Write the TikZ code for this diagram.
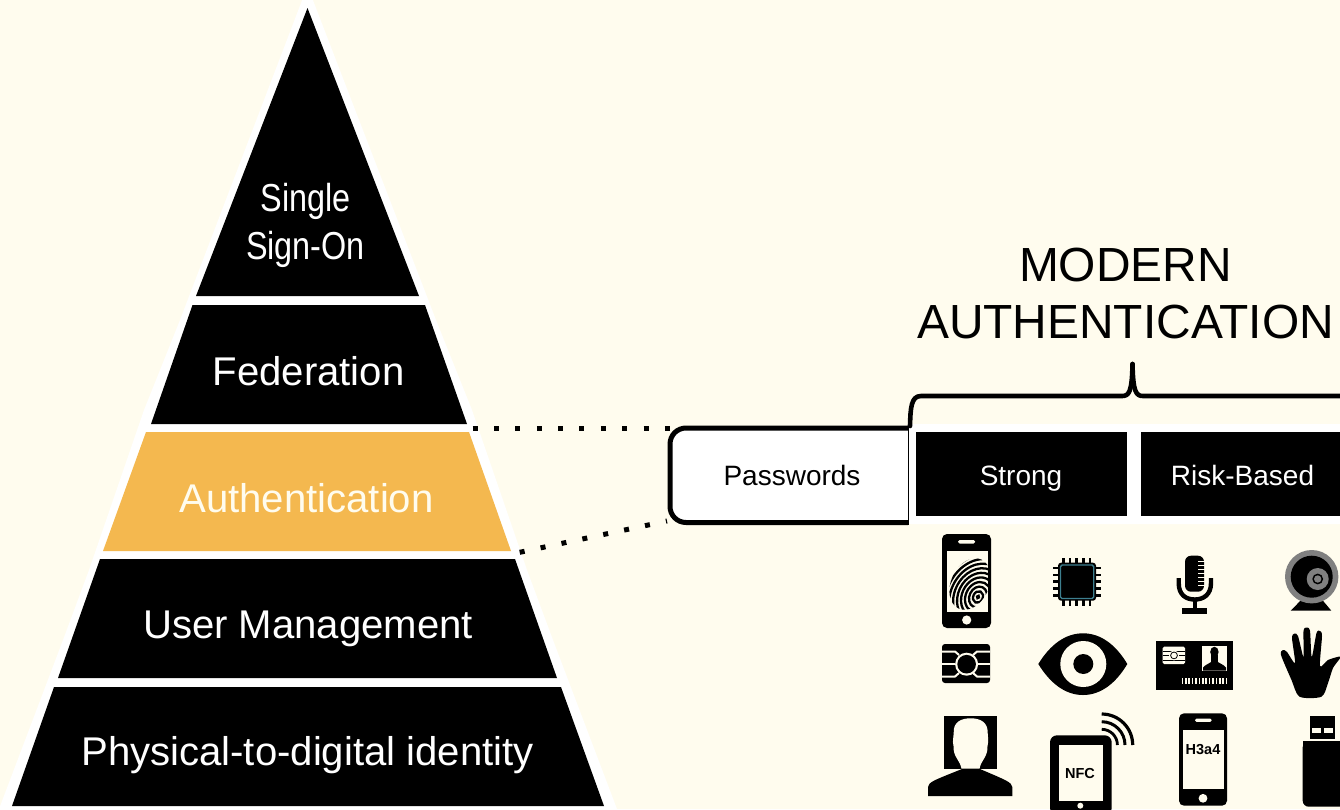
\documentclass[tikz,border=0pt]{standalone}
\usepackage{fontspec}
\setmainfont{Liberation Sans}
\definecolor{bgcream}{HTML}{FFFCEE}
\definecolor{authorange}{HTML}{F4B84F}
\definecolor{chipteal}{HTML}{3D7F8F}
\definecolor{camgrey}{HTML}{808080}
\newcommand{\fsz}[2]{\fontsize{#1}{#2}\selectfont}
\tikzset{
  layer/.style={fill=black,draw=none},
  lbl/.style={text=white,inner sep=0pt,align=center,anchor=base,font=\fsz{40.1}{48}},
  smalllbl/.style={inner sep=0pt,align=center,anchor=base,font=\fsz{28}{32}},
  dotline/.style={line width=5pt,dash pattern=on 5pt off 16.35pt},
  ink/.style={fill=black,draw=none},
  cut/.style={fill=bgcream,draw=none},
  cutline/.style={draw=bgcream,line width=2pt},
}
\begin{document}
\begin{tikzpicture}[x=1pt,y=-1pt]
\useasboundingbox (0,0) rectangle (1340,809);
\clip (0,0) rectangle (1340,809);
\fill[bgcream] (0,0) rectangle (1340,809);
% pyramid
\fill[white] (307.5,-14) -- (436,320) -- (472,410) -- (527,570) -- (553,640) -- (617,809) -- (-1,809) -- (63,640) -- (89,570) -- (144,410) -- (180,320) -- cycle;
\fill[layer] (307.5,8) -- (419,296) -- (196,296) -- cycle;
\fill[layer] (192.5,305) -- (425,305) -- (467,424) -- (151,424) -- cycle;
\fill[authorange] (146,432) -- (469,432) -- (511,551) -- (103,551) -- cycle;
\fill[layer] (100,559) -- (515,559) -- (557,678) -- (58,678) -- cycle;
\fill[layer] (54,687) -- (561,687) -- (604,806) -- (12,806) -- cycle;
\node[lbl,anchor=center] (sso) at (305.5,226) {\scalebox{.83}[1]{\fsz{39}{48}\selectfont\begin{tabular}{@{}c@{}}Single\\[0pt]Sign-On\end{tabular}}};
\node[lbl] (fed) at (308.5,385.5) {Federation};
\node[lbl,text=bgcream] (auth) at (306.5,512) {Authentication};
\node[lbl] (user) at (308,638) {User Management};
\node[lbl] (phys) at (307.5,765) {Physical-to-digital identity};
% connector anchors
\coordinate (authTop) at (472.7,428);
\coordinate (authBot) at (519.7,552.3);
\coordinate (pwTop) at (670,428);
\coordinate (pwBot) at (667,521);
\draw[dotline] (authTop) -- (pwTop);
\draw[dotline] (authBot) -- (pwBot);
% passwords + right panel
\fill[white,rounded corners=3pt] (908,424) rectangle (1345,524);
\fill[white,rounded corners=16pt] (670,428) rectangle (930,522.5);
\fill[white] (908,424) rectangle (930,524);
\draw[line width=5pt,rounded corners=16pt] (908,428) -- (670,428) -- (670,522.5) -- (908,522.5);
\draw[line width=1pt] (908,425.5) -- (908,525);
\node[smalllbl] (pw) at (792,485) {Passwords};
\fill[black] (916,432) rectangle (1126.5,516);
\fill[black] (1141,432) rectangle (1345,516);
\node[smalllbl,text=white] (strong) at (1021,485) {Strong};
\node[smalllbl,text=white] (risk) at (1242.5,485) {Risk-Based};
% brace
\draw[line width=4.6pt,line cap=round,line join=round] (910,426) .. controls (910.5,408) and (911,396) .. (921,396) -- (1122,396) .. controls (1129,396) and (1132,392) .. (1132.5,364);
\draw[line width=4.6pt,line cap=round,line join=round] (1132.5,364) .. controls (1133,392) and (1136,396) .. (1143,396) -- (1345,396);
\node[inner sep=0pt,align=center,font=\fsz{47.9}{57.5}] (modern) at (1125.5,293.5) {MODERN\\AUTHENTICATION};
% --- icons ---
% fingerprint phone
\fill[ink,rounded corners=5pt] (942,534) rectangle (991,628);
\fill[bgcream] (946.5,551) rectangle (988,612);
\fill[cut,rounded corners=1.5pt] (958,540) rectangle (975,543.5);
\fill[cut] (966.7,620) circle[radius=4.6pt];
\begin{scope}
  \clip (946.5,551) rectangle (988,612);
  \clip[rotate around={-25:(970,584)}] (970,584) ellipse[x radius=19pt,y radius=27pt];
  \foreach \r in {1,4.8,8.6,12.4,16.2,20,23.8,27.6,31.4,35.2,39,42.8,46.6}{
    \draw[line width=2.3pt,rotate around={-25:(978,597)}] (978,597) ellipse[x radius=\r pt,y radius=1.25*\r pt];
  }
\end{scope}
% chip card
\fill[ink,rounded corners=3pt] (942,644) rectangle (990,683);
\draw[cutline] (942,651.5) -- (955,651.5) -- (959,655);
\draw[cutline] (990,651.5) -- (977,651.5) -- (973,655);
\draw[cutline] (942,676.5) -- (955,676.5) -- (959,673);
\draw[cutline] (990,676.5) -- (977,676.5) -- (973,673);
\draw[cutline] (942,664) -- (955,664);
\draw[cutline] (978,664) -- (990,664);
\fill[cut] (966.6,664.2) circle[radius=11.5pt];
\fill[ink] (966.6,664.2) circle[radius=9.3pt];
% cpu
\foreach \k in {1063.3,1070,1076.7,1083.3,1090}{
  \fill[ink] (\k-1.3,558) rectangle (\k+1.3,563);
  \fill[ink] (\k-1.3,600) rectangle (\k+1.3,605.7);
}
\foreach \k in {568,574.8,581.6,588.4,595.2}{
  \fill[ink] (1053,\k-1.3) rectangle (1058,\k+1.3);
  \fill[ink] (1096,\k-1.3) rectangle (1100.7,\k+1.3);
}
\fill[ink,rounded corners=3pt] (1058,562.7) rectangle (1096,600.7);
\draw[chipteal,line width=1.4pt,rounded corners=1.5pt] (1060.5,565) rectangle (1093.7,598.5);
% microphone
\fill[ink,rounded corners=6pt] (1185,555.7) rectangle (1204,591.7);
\foreach \k in {561,565,569,573,577,581,585}{
  \draw[bgcream,line width=.8pt] (1198,\k) -- (1204.5,\k);
}
\draw[line width=4.4pt] (1178.7,578) -- (1178.7,583) .. controls (1178.7,595) and (1186,599.5) .. (1194.9,599.5) .. controls (1203,599.5) and (1211,595) .. (1211,583) -- (1211,578);
\fill[ink] (1192.7,599) rectangle (1196.9,609);
\fill[ink] (1181.7,608) rectangle (1206.7,614);
% webcam
\fill[ink] (1305,596) -- (1319,596) -- (1331.3,610.7) -- (1290.7,610.7) -- cycle;
\fill[camgrey] (1311.7,576.7) circle[radius=26.7pt];
\fill[ink] (1311.7,576.7) circle[radius=21pt];
\fill[camgrey] (1317.7,579) circle[radius=11pt];
\fill[ink] (1317.7,579) circle[radius=5.4pt];
\fill[camgrey] (1317.7,579) circle[radius=3.7pt];
% eye
\fill[ink] (1038.3,664) .. controls (1050,645) and (1065,633.3) .. (1083,633.3) .. controls (1101,633.3) and (1116,645) .. (1127.3,664) .. controls (1116,683) and (1101,695) .. (1083,695) .. controls (1065,695) and (1050,683) .. (1038.3,664) -- cycle;
\fill[cut] (1083.3,664) circle[radius=23pt];
\fill[ink] (1083.3,664) circle[radius=10pt];
% id card
\fill[ink] (1156,640.7) rectangle (1233.3,690);
\fill[cut,rounded corners=1.5pt] (1162.7,646.7) rectangle (1185,664);
\draw[line width=.7pt] (1162.7,651) -- (1185,651) (1162.7,655.5) -- (1169,655.5) (1179,655.5) -- (1185,655.5) (1162.7,660) -- (1185,660);
\fill[cut] (1174,655.4) circle[radius=5pt];
\draw[line width=.8pt] (1174,655.4) circle[radius=3.4pt];
\fill[cut] (1201.7,646) rectangle (1227,670.7);
\fill[ink] (1214.4,652) ellipse[x radius=4.2pt,y radius=5.3pt];
\fill[ink] (1211,655) rectangle (1217.8,662) ;
\fill[ink] (1203,670.7) -- (1203,667.5) .. controls (1206,664) and (1210,663.5) .. (1212,661) -- (1217,661) .. controls (1219,663.5) and (1223,664) .. (1226,667.5) -- (1226,670.7) -- cycle;
\foreach \k in {0,...,13}{
  \fill[cut] (1181.5+3.4*\k,678.3) rectangle (1183.2+3.4*\k,684.3);
}
% hand
\fill[ink] plot[smooth cycle,tension=.45] coordinates {
 (1299.5,696.7) (1291.5,680) (1281,655) (1283,650) (1287,652) (1295,663)
 (1292,638) (1294.5,633.5) (1298,636) (1303.5,657) (1303.5,631) (1306.7,627.5) (1310,631)
 (1311.7,657) (1316.5,633) (1320,631) (1322,636) (1320,666)
 (1328,660) (1339.5,656.5) (1339.5,659) (1333,668) (1328,683) (1321.5,696.7)};
% person
\fill[ink] (944,716) rectangle (996.7,768.7);
\fill[cut] (961.5,768.7) .. controls (960,760) and (953,757) .. (953.5,746) .. controls (952,740) and (954,737) .. (953.7,733) .. controls (953,722) and (961,718.3) .. (970.7,718.3) .. controls (980,718.3) and (988,722) .. (987.7,733) .. controls (987.5,737) and (989,740) .. (987.5,746) .. controls (988,757) and (981,760) .. (979.5,768.7) -- cycle;
\fill[ink] (928,796) -- (928,787) .. controls (929,782) and (932,781) .. (962,769) -- (980,769) .. controls (1008,781) and (1011,782) .. (1012.3,787) -- (1012.3,796) -- cycle;
% nfc tablet
\fill[ink,rounded corners=7pt] (1050,735.3) rectangle (1111.7,815);
\fill[bgcream] (1058.7,745) rectangle (1102.7,801);
\fill[cut] (1080.3,805.7) circle[radius=3pt];
\node[inner sep=0pt,font=\fsz{14.5}{16}\bfseries] (nfc) at (1080,773.5) {NFC};
\draw[line width=3.2pt] (1101.7,714) arc[start angle=90,end angle=0,radius=31pt];
\draw[line width=3pt] (1101.7,721.7) arc[start angle=90,end angle=0,radius=23.3pt];
\draw[line width=2.8pt] (1101.7,729.3) arc[start angle=90,end angle=0,radius=15.7pt];
% h3a4 phone
\fill[ink,rounded corners=5pt] (1179,713.3) rectangle (1227,805.7);
\fill[bgcream] (1183,730) rectangle (1223.7,789.3);
\fill[cut,rounded corners=1.5pt] (1195,718.7) rectangle (1211.7,721.9);
\fill[cut] (1203,798.3) circle[radius=4.4pt];
\node[inner sep=0pt,font=\fsz{14.5}{16}\bfseries] (h3a4) at (1203,749.5) {H3a4};
% usb
\fill[ink] (1310,716) rectangle (1334.7,739.3);
\fill[cut] (1312.3,728.3) rectangle (1321,733.3);
\fill[cut] (1324,728.3) rectangle (1332.7,733.3);
\fill[ink,rounded corners=6pt] (1302.7,741.3) -- (1302.7,806.7) -- (1350,806.7) -- (1350,741.3) -- cycle;
\fill[ink] (1302.7,741.3) rectangle (1340,760);
\end{tikzpicture}
\end{document}
